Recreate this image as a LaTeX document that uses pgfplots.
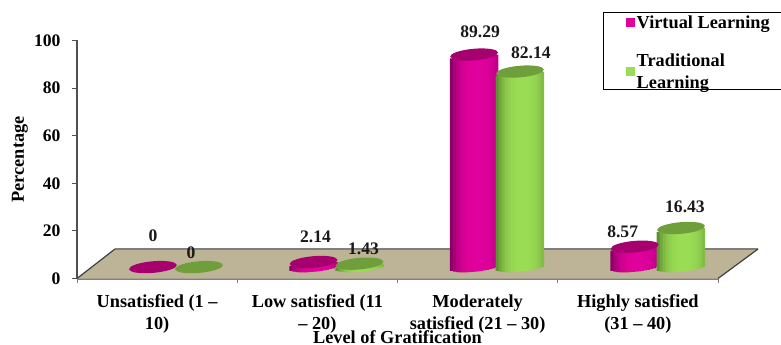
\documentclass[border=0pt]{standalone}
\usepackage{fontspec}
\setmainfont{Liberation Serif}
\usepackage{pgfplots}
\usepackage{pgfplotstable}
\pgfplotsset{compat=1.18}

\definecolor{vbody}{HTML}{E0009C}
\definecolor{vedge}{HTML}{8E0068}
\definecolor{vtop}{HTML}{A6006F}
\definecolor{tbody}{HTML}{9ADC54}
\definecolor{tedge}{HTML}{5F9032}
\definecolor{ttop}{HTML}{6F9F3B}
\definecolor{floorfill}{HTML}{BDB497}
\definecolor{flooredge}{HTML}{7F7F7F}
\definecolor{axisline}{HTML}{505050}

% Colour ramp across the width of a cylinder, one shade per vertical strip
\pgfplotsforeachungrouped \k in {1,...,16}{
  \pgfmathsetmacro{\m}{100*(1-abs((\k-8.5)/7.5-0.15)^3/(1.15^3))}
  \colorlet{vstrip\k}{vbody!\m!vedge}
  \colorlet{tstrip\k}{tbody!\m!tedge}
}

% Filled disc without an outline, flattened into the top of a cylinder
\pgfdeclareplotmark{capdisc}{\pgfpathcircle{\pgfpointorigin}{\pgfplotmarksize}\pgfusepathqfill}

% x: position in category units, val: percentage, dx/dy: label offset in pt
\pgfplotstableread{
x     val    lab    dx   dy
0.474 0      0      0    31
1.476 2.14   2.14   2    25
2.478 89.29  89.29  6    23
3.480 8.57   8.57  -12   15
}\virtualdata
\pgfplotstableread{
x     val    lab    dx   dy
0.761 0      0     -8    14
1.763 1.43   1.43   4    15
2.764 82.14  82.14  11   19
3.769 16.43  16.43  4    21
}\traditionaldata

\newcommand{\labelfont}{\bfseries\fontsize{17.6}{22}\selectfont}
\newcommand{\namefont}{\bfseries\fontsize{18.3}{22}\selectfont}

\pgfplotsset{
  cap/.style={only marks, mark=capdisc, mark size=1pt,
    mark options={fill=#1, rotate=5, xscale=24, yscale=5.8}},
  shared geometry/.style={
    scale only axis, width=641pt, height=238pt,
    at={(77pt,66.5pt)}, anchor=south west,
    xmin=0, xmax=4, clip=false},
  % one strip of a cylinder body: its foot follows the lower rim of the base
  strip/.style 2 args={ybar, draw=none, fill=#2#1,
    bar width=3.5pt, bar shift={(#1-8.5)*3pt},
    yshift={(-4.8*sqrt(1-((#1-8.5)/8.2)^2)+2.1*(#1-8.5)/8)*1pt}},
}

\begin{document}
\begin{tikzpicture}[x=1pt,y=1pt]
\path[use as bounding box] (0,0) rectangle (781,345);

% Floor, axes, tick labels and the legend
\begin{axis}[
  shared geometry,
  ymin=0, ymax=100,
  axis lines=left,
  axis line style={-},
  x axis line style={draw=flooredge, line width=2pt},
  y axis line style={draw=axisline, line width=2pt},
  ytick={0,20,40,60,80,100},
  xtick={0.5,1.5,2.5,3.5},
  minor xtick={0,1,2,3,4},
  xticklabels={{Unsatisfied (1 --\\10)},{Low satisfied (11\\-- 20)},{Moderately\\satisfied (21 -- 30)},{Highly satisfied\\(31 -- 40)}},
  x tick label style={font=\namefont, align=center, yshift=-8pt},
  y tick label style={font=\labelfont, xshift=-8pt},
  /pgf/number format/assume math mode=true,
  tick align=outside,
  major tick length=5pt,
  minor tick length=4pt,
  xtick style={draw=none},
  minor x tick style={draw=flooredge, line width=0.8pt},
  ytick style={draw=axisline, line width=1pt},
  xlabel={Level of Gratification},
  ylabel={Percentage},
  xlabel style={font=\namefont, at={(rel axis cs:0.5,0)}, anchor=center, yshift=-58.5pt},
  ylabel style={font=\namefont, at={(rel axis cs:0,0.5)}, anchor=center, yshift=57pt},
  legend style={draw=none, fill=none, at={(axis cs:3.423,111.4)}, anchor=north west,
    font=\namefont, row sep=20pt, inner sep=0pt,
    /tikz/every even column/.append style={column sep=9pt}},
  legend cell align=left,
  legend image code/.code={\fill[#1, draw=none] (0pt,-4.5pt) rectangle (9pt,4.5pt);},
  cells={align=left},
]
\addplot[fill=floorfill, draw=none, forget plot] coordinates {(0,0) (0.237,12.4) (4.25,12.4) (4,0)};
\addplot[draw=flooredge, line width=1.6pt, forget plot] coordinates {(0.237,12.4) (4.25,12.4)};
\addplot[draw=black!75, line width=1.2pt, forget plot] coordinates {(0,0) (0.237,12.4)};
\addplot[draw=black!75, line width=1.2pt, forget plot] coordinates {(4,0) (4.25,12.4)};
\addlegendimage{fill=vbody}
\addlegendentry{Virtual Learning}
\addlegendimage{fill=tbody}
\addlegendentry{Traditional\\Learning}
\end{axis}

% Cylinders, measured from the cylinder base
\begin{axis}[
  shared geometry,
  ymin=-4.8, ymax=95.2,
  hide axis,
  nodes near coords style={font=\labelfont, anchor=center, text=black!90},
]
\pgfplotsinvokeforeach{1,...,16}{
  \addplot[strip={#1}{vstrip}] table[x=x, y=val] {\virtualdata};
}
\addplot[cap=vtop,
  visualization depends on={\thisrow{dx} \as \labdx},
  visualization depends on={\thisrow{dy} \as \labdy},
  point meta=explicit symbolic,
  nodes near coords,
  nodes near coords style={xshift=\labdx pt, yshift=\labdy pt},
] table[x=x, y=val, meta=lab] {\virtualdata};

\pgfplotsinvokeforeach{1,...,16}{
  \addplot[strip={#1}{tstrip}] table[x=x, y=val] {\traditionaldata};
}
\addplot[cap=ttop,
  visualization depends on={\thisrow{dx} \as \labdx},
  visualization depends on={\thisrow{dy} \as \labdy},
  point meta=explicit symbolic,
  nodes near coords,
  nodes near coords style={xshift=\labdx pt, yshift=\labdy pt},
] table[x=x, y=val, meta=lab] {\traditionaldata};
\end{axis}

% Legend frame
\draw[black, line width=1pt] (603,255) rectangle (790,332.5);
\end{tikzpicture}
\end{document}
